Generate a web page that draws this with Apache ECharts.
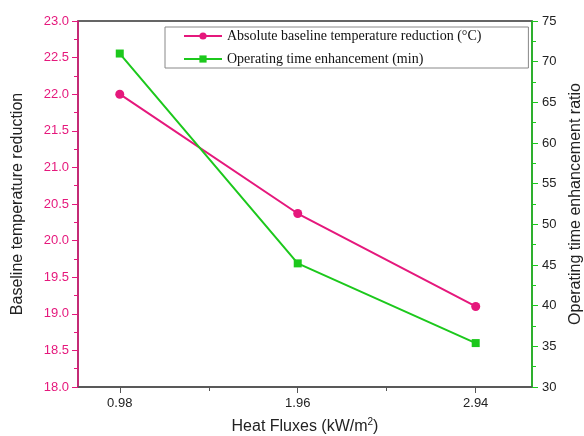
<!DOCTYPE html>
<html>
<head>
<meta charset="utf-8">
<script src="https://cdn.jsdelivr.net/npm/echarts@6/dist/echarts.min.js"></script>
<style>
    html, body { margin: 0; padding: 0; background: #fff; }
    #main { width: 584px; height: 436px; }
</style>
</head>
<body>
<div id="main"></div>
<script>
// 横坐标 热流密度
var heatFlux = [0.98, 1.96, 2.94]
var minorFlux = [1.47, 2.45]
// 基线温度降低
var tempReduction = [22.0, 20.37, 19.1]
// 运行时间提升
var timeEnhance = [71.0, 45.2, 35.4]
var seriesName = ['Absolute baseline temperature reduction (°C)', 'Operating time enhancement (min)']

var pink = '#e5187c'
var green = '#1cc81c'
var sans = 'Liberation Sans'

function pairs(xs, ys) {
    var out = []
    for (var i = 0; i < xs.length; i++) {
        out.push([xs[i], ys[i]])
    }
    return out
}

var dom = echarts.init(document.getElementById('main'))
var option = {
    backgroundColor: '#fff',
    animation: false,
    grid: {
        left: 78,
        right: 52,
        top: 21,
        bottom: 49,
        outerBoundsMode: 'none',
        show: true,
        borderColor: '#333',
        borderWidth: 1.5
    },
    legend: {
        orient: 'vertical',
        left: 165,
        top: 27,
        itemWidth: 38,
        itemHeight: 9,
        itemGap: 9,
        padding: [2, 47, 2, 18],
        borderColor: '#888',
        borderWidth: 1,
        textStyle: {
            fontFamily: 'Liberation Serif',
            fontSize: 14,
            color: '#111'
        },
        data: seriesName
    },
    xAxis: [{
        type: 'value',
        min: 0.75,
        max: 3.25,
        splitLine: { show: false },
        axisLine: { lineStyle: { color: '#555', width: 1.5 } },
        axisTick: {
            customValues: heatFlux,
            length: 6,
            lineStyle: { color: '#555' }
        },
        axisLabel: {
            customValues: heatFlux,
            margin: 10,
            color: '#222',
            fontFamily: sans,
            fontSize: 13,
            formatter: function (v) { return v.toFixed(2) }
        },
        name: '{a|Heat Fluxes (kW/m}{s|2}{a|)}',
        nameLocation: 'middle',
        nameGap: 30,
        nameTextStyle: {
            rich: {
                a: { fontFamily: sans, fontSize: 16, color: '#222' },
                s: { fontFamily: sans, fontSize: 10, color: '#222', padding: [0, 0, 9, 0] }
            }
        }
    }, {
        // 次刻度
        type: 'value',
        min: 0.75,
        max: 3.25,
        position: 'bottom',
        splitLine: { show: false },
        axisLine: { show: false },
        axisLabel: { show: false },
        axisTick: {
            customValues: minorFlux,
            length: 4,
            lineStyle: { color: '#555' }
        }
    }],
    yAxis: [{
        type: 'value',
        min: 18,
        max: 23,
        interval: 0.5,
        position: 'left',
        splitLine: { show: false },
        axisLine: { show: true, lineStyle: { color: pink, width: 1.5 } },
        axisTick: { show: true, inside: false, length: 6, lineStyle: { color: pink } },
        minorTick: { show: true, splitNumber: 2, length: 4, lineStyle: { color: pink } },
        axisLabel: {
            margin: 9,
            color: pink,
            fontFamily: sans,
            fontSize: 13,
            formatter: function (v) { return v.toFixed(1) }
        },
        name: 'Baseline temperature reduction',
        nameLocation: 'middle',
        nameRotate: 90,
        nameGap: 52,
        nameTextStyle: { fontFamily: sans, fontSize: 16, color: '#222' }
    }, {
        type: 'value',
        min: 30,
        max: 75,
        interval: 5,
        position: 'right',
        splitLine: { show: false },
        axisLine: { show: true, lineStyle: { color: green, width: 1.5 } },
        axisTick: { show: true, inside: false, length: 6, lineStyle: { color: green } },
        minorTick: { show: true, splitNumber: 2, length: 4, lineStyle: { color: green } },
        axisLabel: {
            margin: 10,
            color: '#222',
            fontFamily: sans,
            fontSize: 13
        },
        name: 'Operating time enhancement ratio',
        nameLocation: 'middle',
        nameRotate: 90,
        nameGap: 36,
        nameTextStyle: { fontFamily: sans, fontSize: 16, color: '#222' }
    }],
    series: [{
        name: seriesName[0],
        type: 'line',
        xAxisIndex: 0,
        yAxisIndex: 0,
        symbol: 'circle',
        symbolSize: 9,
        lineStyle: { color: pink, width: 2 },
        itemStyle: { color: pink },
        data: pairs(heatFlux, tempReduction)
    }, {
        name: seriesName[1],
        type: 'line',
        xAxisIndex: 0,
        yAxisIndex: 1,
        symbol: 'rect',
        symbolSize: 8,
        lineStyle: { color: green, width: 2 },
        itemStyle: { color: green },
        data: pairs(heatFlux, timeEnhance)
    }]
}
dom.setOption(option)
</script>
</body>
</html>
